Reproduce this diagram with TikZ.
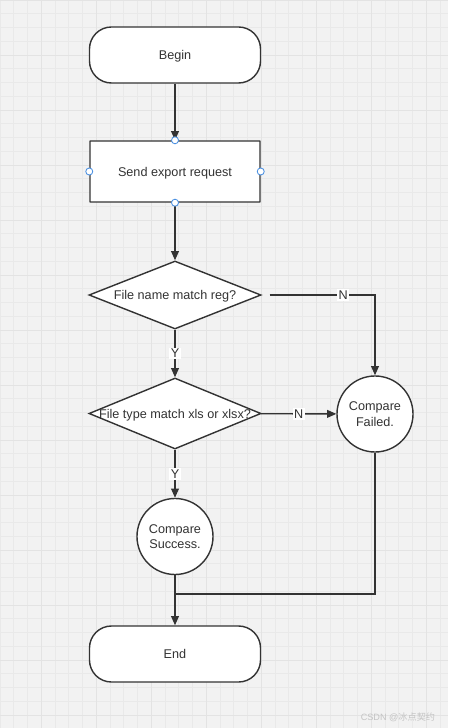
\documentclass[tikz,border=0pt]{standalone}
\usepackage{fontspec}
\setmainfont{Liberation Sans}
\newfontfamily\cjkfont{Noto Sans CJK SC}
\usetikzlibrary{positioning}
\usetikzlibrary{arrows.meta,shapes.geometric}
\definecolor{linegray}{HTML}{333333}
\definecolor{txtgray}{HTML}{333333}
\definecolor{paper}{HTML}{F2F2F2}
\definecolor{gridminor}{HTML}{E9E9E9}
\definecolor{gridmajor}{HTML}{E3E3E3}
\definecolor{handleblue}{HTML}{4A90E2}
\definecolor{wmgray}{HTML}{C4C4C4}

\begin{document}
\begin{tikzpicture}[x=0.025cm,y=-0.025cm,
    every node/.style={font=\fontsize{9}{11}\selectfont, text=txtgray, text depth=0pt},
    flowline/.style={draw=linegray, line width=1pt},
    arrowline/.style={flowline, -{Triangle[length=6.5pt,width=5.5pt]}},
    terminal/.style={draw=linegray, line width=1pt, fill=white, rounded corners=0.55cm,
        minimum width=4.275cm, minimum height=1.4cm},
    process/.style={draw=linegray, line width=1pt, fill=white, rounded corners=0.3pt,
        minimum width=4.25cm, minimum height=1.525cm},
    decision/.style={diamond, draw=linegray, line width=1pt, fill=white,
        minimum width=4.3cm, inner sep=0pt},
    result/.style={circle, draw=linegray, line width=1pt, fill=white,
        minimum size=1.9cm, inner sep=0pt, align=center},
    yn/.style={fill=white, inner sep=1pt},
    handle/.style={circle, draw=handleblue, fill=white, line width=0.6pt,
        minimum size=5pt, inner sep=0pt}]
    \useasboundingbox (0,0) rectangle (448,728);
    % Grid paper
    \fill[paper] (0,0) rectangle (448,728);
    \foreach \gx in {0,13.75,...,448} \draw[gridminor, line width=0.5pt] (\gx,0) -- (\gx,728);
    \foreach \gy in {0,13.75,...,728} \draw[gridminor, line width=0.5pt] (0,\gy) -- (448,\gy);
    \foreach \gx in {41.25,96.25,...,448} \draw[gridmajor, line width=0.7pt] (\gx,0) -- (\gx,728);
    \foreach \gy in {0,55,...,728} \draw[gridmajor, line width=0.7pt] (0,\gy) -- (448,\gy);

    % Steps
    \node[terminal] (begin) at (175,55) {Begin};
    \node[process] (send) at (175,171.5) {Send export request};
    \node[decision, minimum height=1.7cm, label={center:File name match reg?}] (d1) at (175,295) {};
    \node[decision, minimum height=1.775cm, label={center:File type match xls or xlsx?}] (d2) at (175,413.5) {};
    \node[result] (fail) at (375,414) {Compare\\Failed.};
    \node[result] (success) at (175,536.5) {Compare\\Success.};
    \node[terminal] (end) at (175,654) {End};
    \coordinate (merge) at (175,594);

    % Flow
    \draw[arrowline] (begin) -- (send);
    \draw[arrowline] (send) -- (d1);
    \draw[arrowline] (d1) -- node[yn] {Y} (d2);
    \draw[arrowline, shorten <=0.2cm] (d1.east) -| node[yn, pos=0.36] {N} (fail.north);
    \draw[arrowline] (d2) -- node[yn] {N} (fail);
    \draw[arrowline] (d2) -- node[yn] {Y} (success);
    \draw[arrowline] (success) -- (end);
    \draw[flowline] (fail.south) |- (merge);

    % Selection handles
    \node[handle] (hn) at (send.north) {};
    \node[handle] (hs) at (send.south) {};
    \node[handle] (hw) at (send.west) {};
    \node[handle] (he) at (send.east) {};

    % Watermark
    \node[text=wmgray, font=\fontsize{6.5}{8}\selectfont, anchor=east] (mark) at (440,717) {CSDN @{\cjkfont 冰点契约}};
\end{tikzpicture}
\end{document}
